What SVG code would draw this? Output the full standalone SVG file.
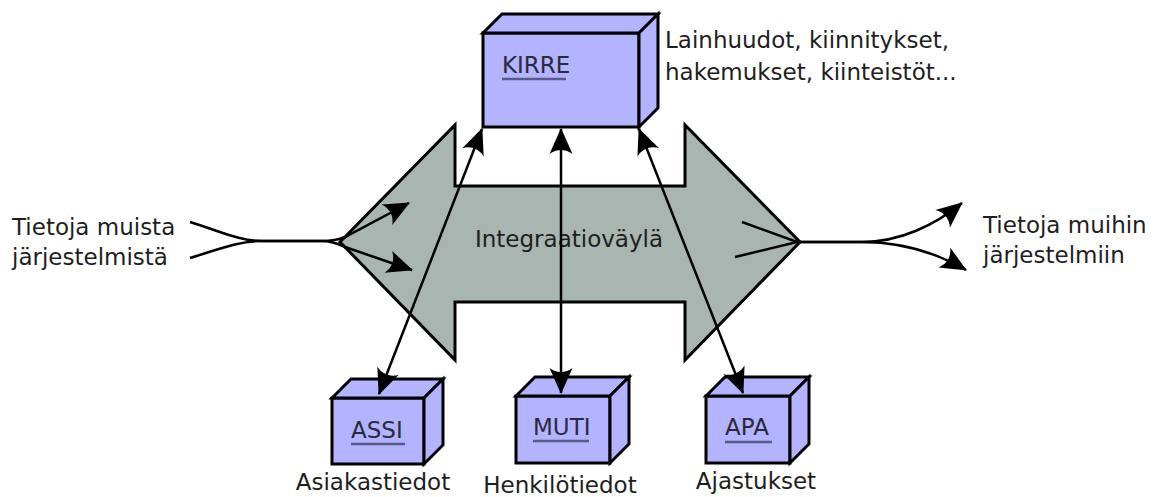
<svg xmlns="http://www.w3.org/2000/svg" width="1160" height="497" viewBox="0 0 1160 497">
<style>
.txt{font-family:"DejaVu Sans","Liberation Sans",sans-serif;font-size:23px;fill:#1e1e1e}
.lbl{font-family:"DejaVu Sans","Liberation Sans",sans-serif;font-size:23px;fill:#2a2a3c}
.face{fill:#b3b3ff;stroke:#000;stroke-width:3;stroke-linejoin:miter}
.ul{stroke:#5a5a88;stroke-width:2.5}
.bus{fill:#a9b5b1;stroke:#000;stroke-width:3;stroke-linejoin:miter}
.con{fill:none;stroke:#000;stroke-width:2.5}
</style>
<defs>
<marker id="ah" markerUnits="userSpaceOnUse" markerWidth="32" markerHeight="32" refX="1" refY="0" viewBox="-28 -14 32 28" orient="auto-start-reverse" overflow="visible">
<path d="M2,0 L-24,-11.5 C-18.5,-4.5 -18.5,4.5 -24,11.5 Z" fill="#000"/>
</marker>
</defs>
<g id="bus">
<path class="bus" d="M340,242 L455,125 L455,186 L685,186 L685,125 L800,242 L685,360 L685,302 L455,302 L455,360 Z"/>
<text class="txt" x="569" y="247" text-anchor="middle">Integraatioväylä</text>
</g>
<g id="kirre">
<rect class="face" x="483" y="33" width="156" height="94"/>
<path class="face" d="M483,33 L502,14 L658,14 L639,33 Z"/>
<path class="face" d="M639,33 L658,14 L658,108 L639,127 Z"/>
<text class="lbl" x="502" y="73">KIRRE</text>
<line class="ul" x1="502" y1="79" x2="566" y2="79"/>
<text class="txt" x="665" y="48">Lainhuudot, kiinnitykset,</text>
<text class="txt" x="665" y="80">hakemukset, kiinteistöt...</text>
</g>
<g id="assi">
<rect class="face" x="332" y="398" width="92" height="66"/>
<path class="face" d="M332,398 L351,379 L443,379 L424,398 Z"/>
<path class="face" d="M424,398 L443,379 L443,445 L424,464 Z"/>
<text class="lbl" x="351" y="438">ASSI</text>
<line class="ul" x1="351" y1="444" x2="405" y2="444"/>
<text class="txt" x="373" y="490" text-anchor="middle">Asiakastiedot</text>
</g>
<g id="muti">
<rect class="face" x="516" y="396" width="94" height="67"/>
<path class="face" d="M516,396 L535,377 L629,377 L610,396 Z"/>
<path class="face" d="M610,396 L629,377 L629,444 L610,463 Z"/>
<text class="lbl" x="533" y="435">MUTI</text>
<line class="ul" x1="533" y1="441" x2="589" y2="441"/>
<text class="txt" x="560" y="493" text-anchor="middle">Henkilötiedot</text>
</g>
<g id="apa">
<rect class="face" x="706" y="396" width="84" height="67"/>
<path class="face" d="M706,396 L725,377 L809,377 L790,396 Z"/>
<path class="face" d="M790,396 L809,377 L809,444 L790,463 Z"/>
<text class="lbl" x="725" y="435">APA</text>
<line class="ul" x1="725" y1="442" x2="772" y2="442"/>
<text class="txt" x="756" y="489" text-anchor="middle">Ajastukset</text>
</g>
<g id="source">
<text class="txt" x="12" y="235">Tietoja muista</text>
<text class="txt" x="12" y="265">järjestelmistä</text>
</g>
<g id="target">
<text class="txt" x="983" y="233">Tietoja muihin</text>
<text class="txt" x="983" y="263">järjestelmiin</text>
</g>
<g id="connectors">
<path class="con" d="M482,129 L379,394" marker-start="url(#ah)" marker-end="url(#ah)"/>
<path class="con" d="M561,129 L561,393" marker-start="url(#ah)" marker-end="url(#ah)"/>
<path class="con" d="M639,129 L743,393" marker-start="url(#ah)" marker-end="url(#ah)"/>
<path class="con" d="M190,222 C222,232 240,241 262,241 L322,241 C333,241 338,244 345,247 L412,270" marker-end="url(#ah)"/>
<path class="con" d="M190,258 C222,248 240,241 262,241 L322,241 C333,241 338,240 345,237 L409,203" marker-end="url(#ah)"/>
<path class="con" d="M742,222 L797,242 L862,242 C900,242 935,225 962,203" marker-end="url(#ah)"/>
<path class="con" d="M735,257 L797,242 L862,242 C900,242 935,252 966,270" marker-end="url(#ah)"/>
</g>
</svg>
